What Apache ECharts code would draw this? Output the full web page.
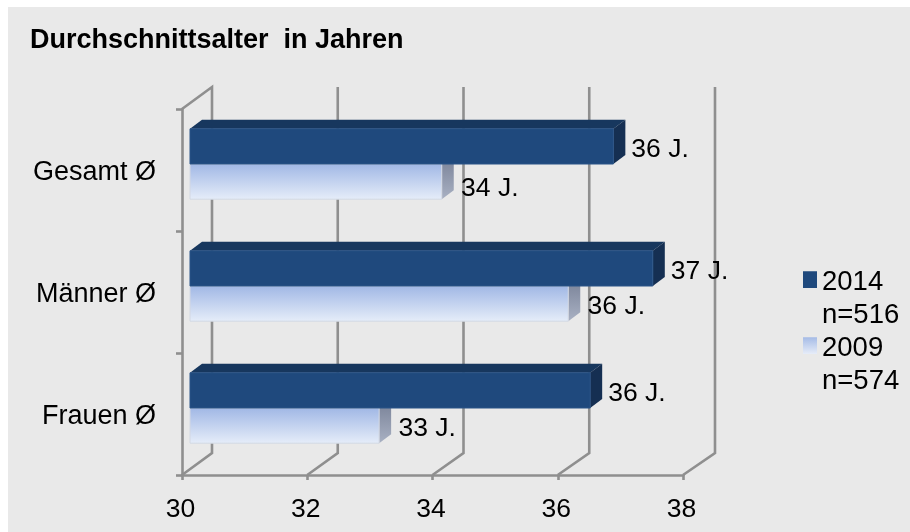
<!DOCTYPE html>
<html>
<head>
<meta charset="utf-8">
<style>html,body{margin:0;padding:0;background:#fff}#c{width:910px;height:532px}</style>
<script src="https://cdn.jsdelivr.net/npm/echarts@6/dist/echarts.min.js"></script>
</head>
<body>
<div id="c"></div>
<script>
const categories = ['Gesamt Ø', 'Männer Ø', 'Frauen Ø'];
const values2014 = [36.76, 37.39, 36.39];
const values2009 = [34.02, 36.04, 33.02];
const labels2014 = ['36 J.', '37 J.', '36 J.'];
const labels2009 = ['34 J.', '36 J.', '33 J.'];
const xTicks = [30, 32, 34, 36, 38];
const name2014 = '2014\nn=516';
const name2009 = '2009\nn=574';

const font = '"Liberation Sans", Arial, sans-serif';
const G = echarts.graphic;
const wall = { dx: 30, dy: -22, skew: 0.25 };
const bar = { inset: 8, lift: -6, dx: 12, dy: -9, ratio: 0.2885 };
const lineGrey = '#8f8f8f';

function grad(a, b) {
  return new G.LinearGradient(0, 0, 0, 1, [{ offset: 0, color: a }, { offset: 1, color: b }]);
}

function wallItem(params, api) {
  const v = api.value(0);
  const cs = params.coordSys;
  const x = api.coord([v, 0])[0];
  const bottom = cs.y + cs.height;
  const bx = x + wall.dx + (v - xTicks[0]) * wall.skew;
  const pts = [[x, bottom], [bx, bottom + wall.dy], [bx, cs.y + wall.dy]];
  if (params.dataIndex === 0) pts.push([x, cs.y]);
  return { type: 'polyline', shape: { points: pts }, style: { stroke: lineGrey, lineWidth: 2.6, fill: null }, silent: true };
}

function barRenderer(front, top, side, edge, labels, which, labelDx, firstNudge) {
  return function (params, api) {
    const v = api.value(0);
    const cat = api.value(1);
    const c = api.coord([v, cat]);
    const o = api.coord([xTicks[0], cat]);
    const h = api.size([0, 1])[1] * bar.ratio;
    const yc = c[1] + bar.lift + (which === 0 ? -h / 2 : h / 2);
    const x0 = o[0] + bar.inset, x1 = c[0] + bar.inset;
    const y0 = yc - h / 2, y1 = yc + h / 2;
    const ly = yc + 3 + (params.dataIndex === 0 ? firstNudge : 0);
    const kids = [
      { type: 'polygon', shape: { points: [[x0, y0], [x0 + bar.dx, y0 + bar.dy], [x1 + bar.dx, y0 + bar.dy], [x1, y0]] }, style: { fill: top } },
      { type: 'polygon', shape: { points: [[x1, y0], [x1 + bar.dx, y0 + bar.dy], [x1 + bar.dx, y1 + bar.dy], [x1, y1]] }, style: { fill: side } },
      { type: 'rect', shape: { x: x0, y: y0, width: x1 - x0, height: y1 - y0 }, style: { fill: front, stroke: edge, lineWidth: 1 } },
      { type: 'text', x: x1 + labelDx, y: ly, style: { text: labels[params.dataIndex], fill: '#000', font: '26.5px ' + font, align: 'left', verticalAlign: 'middle' } }
    ];
    return { type: 'group', children: kids, silent: true };
  };
}

const iconPath = 'path://M0 0H0V0Z M0 5.7H14V22.4H0Z M0 66H0V66Z';
const iconFrom = 5.7 / 66, iconTo = 22.4 / 66;

const chart = echarts.init(document.getElementById('c'), null, { renderer: 'canvas' });
chart.setOption({
  animation: false,
  backgroundColor: '#fff',
  graphic: [{ type: 'rect', z: -10, silent: true, shape: { x: 8, y: 7, width: 902, height: 525 }, style: { fill: '#e9e9e9' } }],
  title: { text: 'Durchschnittsalter  in Jahren', left: 30, top: 27, padding: 0,
    textStyle: { fontFamily: font, fontSize: 27, fontWeight: 'bold', color: '#000' } },
  grid: { left: 182, top: 109, width: 501, height: 366, containLabel: false },
  xAxis: { type: 'value', min: 30, max: 38, interval: 2, splitLine: { show: false },
    axisLine: { show: true, lineStyle: { color: lineGrey, width: 2.6 } },
    axisTick: { show: true, length: 5, lineStyle: { color: lineGrey, width: 2.6 } },
    axisLabel: { margin: 21, padding: [0, 3, 0, 0], color: '#000', fontFamily: font, fontSize: 26.5, showMinLabel: true, showMaxLabel: true } },
  yAxis: { type: 'category', inverse: true, data: categories,
    axisLine: { show: true, lineStyle: { color: lineGrey, width: 2.6 } },
    axisTick: { show: true, length: 6, lineStyle: { color: lineGrey, width: 2.6 } },
    axisLabel: { margin: 26, verticalAlign: 'top', lineHeight: 6, color: '#000', fontFamily: font, fontSize: 27 } },
  legend: { orient: 'vertical', left: 803, top: 265.5, padding: 0, itemGap: 0, itemWidth: 14, itemHeight: 66, selectedMode: false,
    textStyle: { fontFamily: font, fontSize: 27.5, lineHeight: 33, color: '#000' },
    data: [
      { name: name2014, icon: iconPath, itemStyle: { color: '#1f497d' } },
      { name: name2009, icon: iconPath, itemStyle: { color: new G.LinearGradient(0, 0, 0, 1, [
        { offset: iconFrom, color: '#a5bbe6' }, { offset: iconTo, color: '#e6ecf8' }]) } }
    ] },
  series: [
    { type: 'custom', name: 'walls', z: 1, clip: false, silent: true, coordinateSystem: 'cartesian2d',
      data: xTicks.map(t => [t, 0]), encode: { x: 0, y: 1 }, renderItem: wallItem },
    { type: 'custom', name: name2009, z: 2, clip: false, silent: true,
      data: values2009.map((v, i) => [v, i]), encode: { x: 0, y: 1 },
      renderItem: barRenderer(grad('#a0b7e5', '#e6edf9'), '#c6d3ee', grad('#767f95', '#a9b1c3'), '#d3d8e2', labels2009, 1, 19.3, 4.5) },
    { type: 'custom', name: name2014, z: 3, clip: false, silent: true,
      data: values2014.map((v, i) => [v, i]), encode: { x: 0, y: 1 },
      renderItem: barRenderer('#1f497d', '#17375e', '#152f52', '#2b5488', labels2014, 0, 18, 0) }
  ]
});
</script>
</body>
</html>
